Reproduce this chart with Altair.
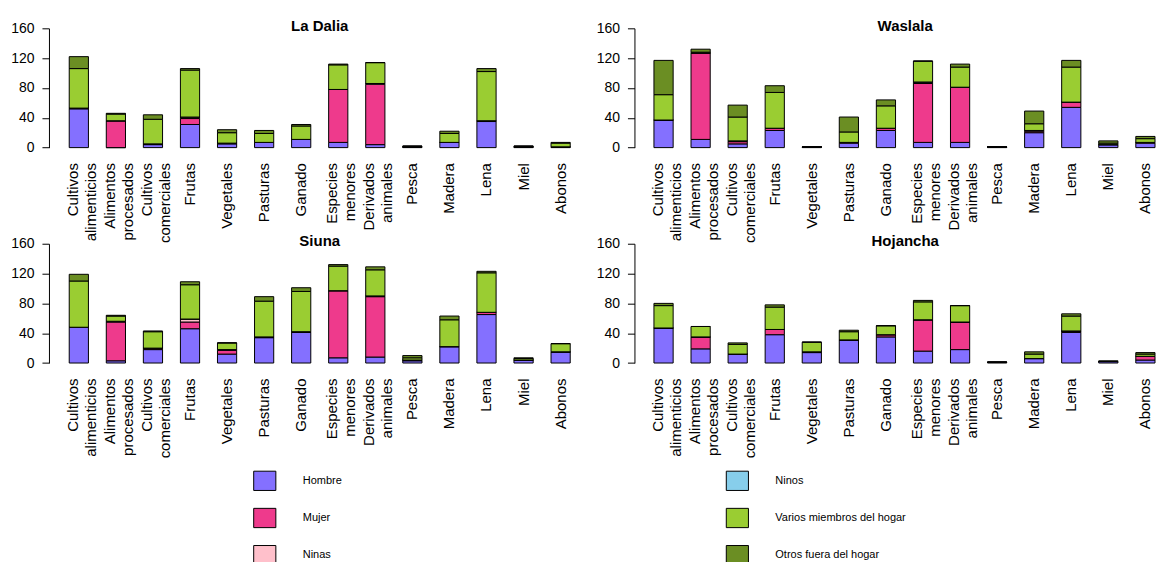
import altair as alt
import pandas as pd

# Product categories (x axis), two-line names split on "\n"
categorias = [
    "Cultivos\nalimenticios", "Alimentos\nprocesados", "Cultivos\ncomerciales",
    "Frutas", "Vegetales", "Pasturas", "Ganado", "Especies\nmenores",
    "Derivados\nanimales", "Pesca", "Madera", "Lena", "Miel", "Abonos",
]

# Household member responsible, stacked bottom to top
grupos = ["Hombre", "Mujer", "Ninas", "Ninos",
          "Varios miembros del hogar", "Otros fuera del hogar"]
colores = ["#8470FF", "#EE3A8C", "#FFC0CB", "#87CEEB", "#9ACD32", "#6B8E23"]

# La Dalia
la_dalia_hombre = [52, 0, 4, 31, 5, 7, 11, 7, 4, 1, 7, 35, 1, 1]
la_dalia_mujer  = [1, 36, 1, 8, 1, 0, 0, 71, 81, 0, 0, 1, 0, 0]
la_dalia_ninas  = [0, 0, 0, 2, 0, 0, 0, 0, 1, 0, 0, 0, 0, 0]
la_dalia_ninos  = [0, 0, 0, 0, 0, 0, 0, 0, 0, 0, 0, 0, 0, 0]
la_dalia_varios = [53, 9, 33, 63, 14, 12, 18, 33, 28, 1, 12, 66, 1, 5]
la_dalia_otros  = [16, 1, 6, 2, 4, 4, 2, 1, 0, 0, 3, 4, 0, 1]

# Waslala
waslala_hombre = [37, 11, 5, 23, 1, 6, 23, 7, 7, 1, 20, 54, 4, 6]
waslala_mujer  = [0, 116, 3, 3, 0, 1, 3, 79, 74, 0, 2, 7, 0, 1]
waslala_ninas  = [0, 0, 1, 0, 0, 0, 0, 1, 0, 0, 1, 0, 0, 0]
waslala_ninos  = [0, 0, 0, 0, 0, 0, 0, 1, 0, 0, 0, 0, 0, 0]
waslala_varios = [34, 1, 32, 48, 0, 14, 30, 28, 27, 0, 9, 47, 2, 5]
waslala_otros  = [46, 4, 16, 9, 0, 20, 8, 0, 4, 0, 17, 9, 3, 3]

# Siuna
siuna_hombre = [48, 3, 18, 46, 12, 34, 41, 7, 8, 3, 22, 65, 4, 15]
siuna_mujer  = [0, 52, 2, 9, 5, 1, 1, 90, 81, 1, 0, 3, 0, 0]
siuna_ninas  = [0, 1, 0, 4, 1, 0, 0, 0, 1, 0, 0, 0, 0, 0]
siuna_ninos  = [0, 0, 0, 0, 0, 0, 0, 0, 0, 0, 0, 0, 0, 0]
siuna_varios = [62, 7, 22, 46, 9, 48, 54, 33, 35, 3, 36, 53, 2, 11]
siuna_otros  = [9, 1, 1, 4, 0, 6, 5, 2, 4, 3, 5, 2, 1, 0]

# Hojancha
hojancha_hombre = [47, 19, 12, 38, 14, 31, 35, 16, 18, 1, 6, 41, 2, 4]
hojancha_mujer  = [0, 16, 0, 7, 1, 0, 3, 42, 37, 0, 0, 2, 0, 5]
hojancha_ninas  = [0, 0, 0, 0, 0, 0, 0, 0, 0, 0, 0, 0, 0, 0]
hojancha_ninos  = [0, 0, 0, 0, 0, 0, 0, 0, 0, 0, 0, 0, 0, 0]
hojancha_varios = [30, 14, 13, 30, 13, 11, 12, 24, 22, 0, 6, 20, 0, 3]
hojancha_otros  = [3, 0, 2, 3, 0, 2, 0, 2, 0, 0, 3, 3, 1, 2]

sitios = [
    ("La Dalia", [la_dalia_hombre, la_dalia_mujer, la_dalia_ninas,
                  la_dalia_ninos, la_dalia_varios, la_dalia_otros]),
    ("Waslala", [waslala_hombre, waslala_mujer, waslala_ninas,
                 waslala_ninos, waslala_varios, waslala_otros]),
    ("Siuna", [siuna_hombre, siuna_mujer, siuna_ninas,
               siuna_ninos, siuna_varios, siuna_otros]),
    ("Hojancha", [hojancha_hombre, hojancha_mujer, hojancha_ninas,
                  hojancha_ninos, hojancha_varios, hojancha_otros]),
]

FUENTE = "Liberation Sans"
ANCHO_IZQ = 542         # left-hand panels
ANCHO_DER = 521         # right-hand panels reach the page edge
ALTO = 119.4
SEP_COLUMNAS = 44

escala_color = alt.Scale(domain=grupos, range=colores)
SIMBOLO = "M-1.15,-1L1.15,-1L1.15,1L-1.15,1Z"


def panel(nombre, series, derecha):
    filas = []
    for g_i, (grupo, valores) in enumerate(zip(grupos, series)):
        for cat, v in zip(categorias, valores):
            filas.append({"categoria": cat, "grupo": grupo, "orden": g_i, "valor": v})
    df = pd.DataFrame(filas)
    ancho = ANCHO_DER if derecha else ANCHO_IZQ
    if derecha:
        escala_x = alt.Scale(paddingInner=0.482, paddingOuter=0.263, align=1)
    else:
        escala_x = alt.Scale(paddingInner=0.482, paddingOuter=0.547)
    return alt.Chart(
        df,
        title=alt.TitleParams(
            nombre, anchor="middle", fontSize=15, fontWeight="bold",
            font=FUENTE, color="black", baseline="alphabetic", offset=-2,
            dy=22.7, dx=(ANCHO_IZQ - ancho) / 2,
        ),
    ).mark_bar(stroke="black", strokeWidth=1).encode(
        x=alt.X(
            "categoria:N", sort=categorias, scale=escala_x,
            axis=alt.Axis(
                title=None, ticks=False, tickSize=0, domain=False,
                labelAngle=270, labelPadding=15, labelFontSize=15,
                labelLineHeight=18, labelOverlap=False, labelLimit=0,
                labelExpr="split(datum.label, '\\n')",
                labelOffset={"condition": {"test": "indexof(datum.value, '\\n') >= 0",
                                           "value": -6},
                             "value": 0},
            ),
        ),
        y=alt.Y(
            "valor:Q", stack="zero",
            scale=alt.Scale(domain=[0, 160], nice=False),
            axis=alt.Axis(
                title=None, values=[0, 40, 80, 120, 160], grid=False,
                tickSize=7, labelPadding=8, labelFontSize=14,
            ),
        ),
        color=alt.Color("grupo:N", scale=escala_color, legend=None),
        order=alt.Order("orden:Q", sort="ascending"),
    ).properties(width=ancho, height=ALTO)


paneles = [panel(n, s, i % 2 == 1) for i, (n, s) in enumerate(sitios)]

# Key: two columns of three entries, cut at the bottom edge of the page
leyenda_df = pd.DataFrame({
    "grupo": grupos,
    "columna": [i // 3 for i in range(len(grupos))],
    "fila": [i % 3 for i in range(len(grupos))],
})
RANGO_COLUMNAS = [216, 689]   # key column positions, measured from the left panel


def leyenda(col):
    desplazamiento = col * (ANCHO_IZQ + SEP_COLUMNAS)
    base = alt.Chart(leyenda_df[leyenda_df["columna"] == col]).encode(
        x=alt.X("columna:Q", axis=None, scale=alt.Scale(
            domain=[0, 1], range=[r - desplazamiento for r in RANGO_COLUMNAS])),
        y=alt.Y("fila:Q", axis=None,
                scale=alt.Scale(domain=[0, 2], range=[21.7, 96.1])),
    )
    cuadros = base.mark_point(
        shape=SIMBOLO, size=372, filled=True, stroke="black", strokeWidth=1,
        opacity=1, fillOpacity=1, clip=True,
    ).encode(color=alt.Color("grupo:N", scale=escala_color, legend=None))
    textos = base.mark_text(
        align="left", baseline="middle", dx=38, fontSize=11, font=FUENTE,
        color="black", clip=True,
    ).encode(text="grupo:N")
    ancho = ANCHO_DER if col else ANCHO_IZQ
    return (cuadros + textos).properties(width=ancho, height=103.4)


chart = alt.concat(
    *paneles, leyenda(0), leyenda(1), columns=2,
    spacing={"row": 95.6, "column": SEP_COLUMNAS}, bounds="flush",
).resolve_scale(color="shared").properties(
    padding={"left": 10, "top": 18.1, "right": 0, "bottom": 0},
    background="white",
).configure_view(
    stroke=None,
).configure_axis(
    labelFont=FUENTE, labelColor="black", domainColor="black",
    tickColor="black", domainWidth=1, tickWidth=1,
)

chart.save("out.html", embed_options={"renderer": "svg", "actions": False})
